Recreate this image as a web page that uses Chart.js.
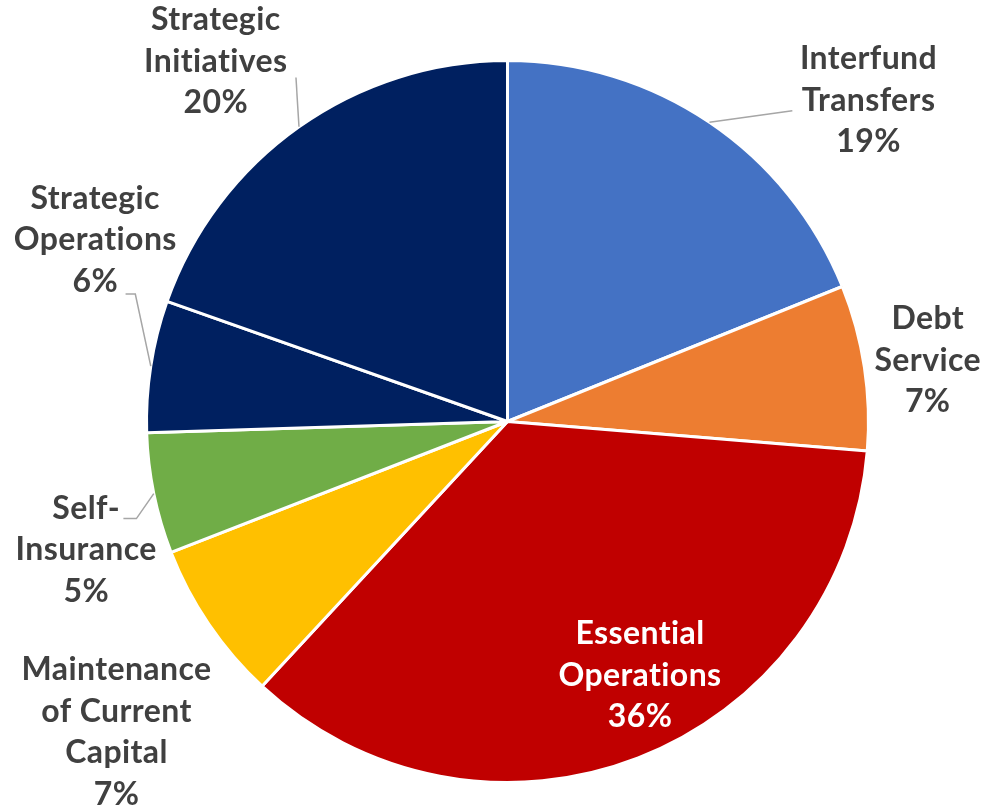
<!DOCTYPE html>
<html>
<head>
<meta charset="utf-8">
<script src="https://cdn.jsdelivr.net/npm/chart.js@4"></script>
<style>
  html, body { margin: 0; padding: 0; background: #ffffff; }
  #wrap { width: 986px; height: 808px; }
</style>
</head>
<body>
<div id="wrap"><canvas id="budgetPie" width="986" height="808"></canvas></div>
<script>
// slice data, clockwise from 12 o'clock
const categories = [
    ['Interfund', 'Transfers'],
    ['Debt', 'Service'],
    ['Essential', 'Operations'],
    ['Maintenance', 'of Current', 'Capital'],
    ['Self-', 'Insurance'],
    ['Strategic', 'Operations'],
    ['Strategic', 'Initiatives']
];
const shares = [18.9, 7.4, 35.6, 7.2, 5.4, 5.9, 19.6];
const sliceColors = ['#4472C4', '#ED7D31', '#C00000', '#FFC000', '#70AD47', '#002060', '#002060'];

// label placement, in units of the pie radius from the pie centre
const labelSpots = [
    { x: 1.0, y: -0.889, color: '#404040' },
    { x: 1.164, y: -0.169, color: '#404040' },
    { x: 0.367, y: 0.703, color: '#ffffff' },
    { x: -1.083, y: 0.861, color: '#404040' },
    { x: -1.167, y: 0.356, color: '#404040' },
    { x: -1.142, y: -0.503, color: '#404040' },
    { x: -0.808, y: -0.997, color: '#404040' }
];
// leader line bends (radius units), drawn from the slice edge outwards
const leaders = {
    0: [[0.789, -0.861]],
    4: [[-1.028, 0.269], [-1.064, 0.269]],
    5: [[-1.031, -0.353], [-1.058, -0.353]],
    6: [[-0.586, -0.953]]
};

const pieLabels = {
    id: 'pieLabels',
    afterDatasetsDraw(chart) {
        const ctx = chart.ctx;
        const meta = chart.getDatasetMeta(0);
        const total = shares.reduce((a, b) => a + b, 0);
        ctx.save();
        meta.data.forEach((arc, i) => {
            const cx = arc.x, cy = arc.y, r = arc.outerRadius;
            // leader lines
            if (leaders[i]) {
                const mid = (arc.startAngle + arc.endAngle) / 2;
                ctx.beginPath();
                ctx.moveTo(cx + Math.cos(mid) * r, cy + Math.sin(mid) * r);
                leaders[i].forEach(p => ctx.lineTo(cx + p[0] * r, cy + p[1] * r));
                ctx.strokeStyle = '#a6a6a6';
                ctx.lineWidth = 1.5;
                ctx.stroke();
            }
            const lines = categories[i].concat([Math.round(shares[i] / total * 100) + '%']);
            const spot = labelSpots[i];
            const lh = 41.5;
            const x = cx + spot.x * r;
            const y0 = cy + spot.y * r - (lines.length - 1) * lh / 2;
            ctx.font = 'bold 32px Lato, "Open Sans", sans-serif';
            ctx.letterSpacing = '0.4px';
            ctx.fillStyle = spot.color;
            ctx.textAlign = 'center';
            ctx.textBaseline = 'middle';
            lines.forEach((t, k) => ctx.fillText(t, x, y0 + k * lh));
        });
        ctx.restore();
    }
};

document.addEventListener('DOMContentLoaded', function () {
    const ctx = document.getElementById('budgetPie').getContext('2d');
    new Chart(ctx, {
        type: 'pie',
        data: {
            labels: categories.map(c => c.join(' ')),
            datasets: [{
                data: shares,
                backgroundColor: sliceColors,
                borderColor: '#ffffff',
                borderWidth: 3
            }]
        },
        options: {
            responsive: false,
            animation: false,
            layout: {
                padding: { top: 59, bottom: 24, left: 145, right: 116 }
            },
            plugins: {
                legend: { display: false },
                tooltip: { enabled: false }
            }
        },
        plugins: [pieLabels]
    });
});
</script>
</body>
</html>
